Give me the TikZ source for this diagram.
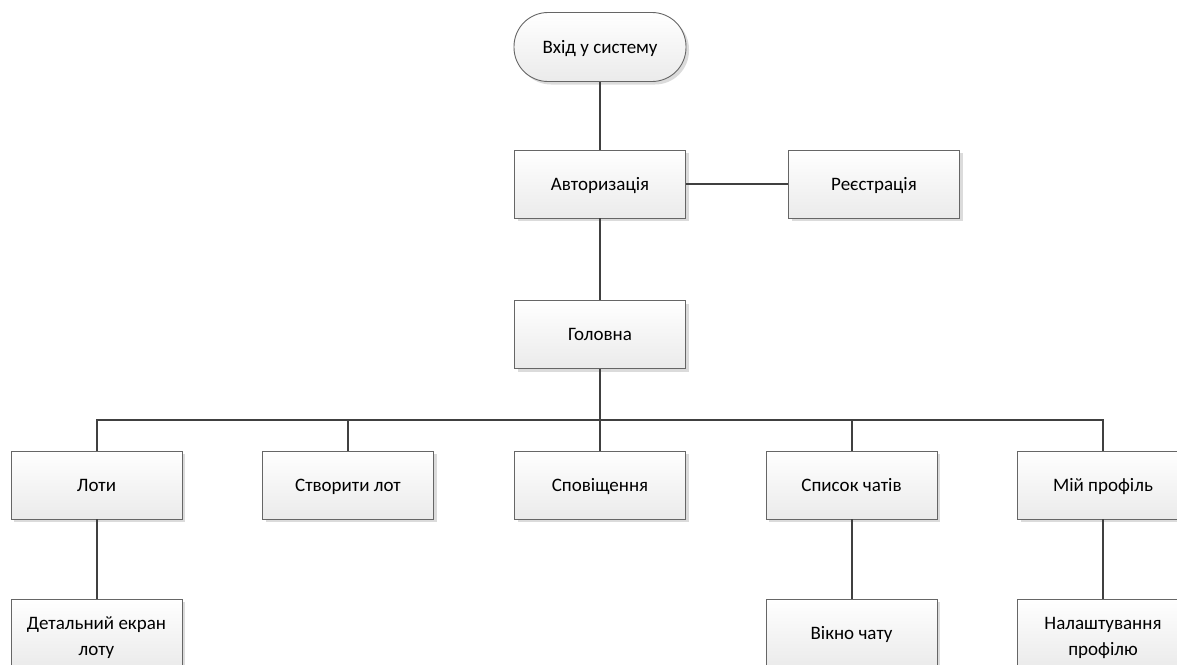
\documentclass[tikz,border=0pt]{standalone}
\usepackage{fontspec}
\setmainfont{Carlito}
\usetikzlibrary{shadows}
\tikzset{
  block/.style={rectangle, draw=black!60, line width=0.9pt,
    top color=white, bottom color=black!8,
    drop shadow={shadow xshift=3pt, shadow yshift=-3pt, fill=black!14, opacity=1},
    minimum width=171pt, minimum height=68pt, inner sep=2pt,
    align=center, font=\fontsize{19}{26}\selectfont, text=black,
    text height=12.2pt, text depth=0pt},
  twoline/.style={block, text height=44pt},
  terminal/.style={block, rounded corners=34pt, minimum height=69pt, minimum width=172pt},
  link/.style={draw=black!75, line width=2pt}
}
\begin{document}
\begin{tikzpicture}[x=1pt, y=-1pt]
  \useasboundingbox (0,0) rectangle (1177,664);
  % top part
  \node[terminal] (start) at (600,47) {Вхід у систему};
  \node[block] (auth) at (600,184) {Авторизація};
  \node[block] (reg) at (874,184) {Реєстрація};
  \node[block] (main) at (600,334.5) {Головна};
  % second level
  \node[block] (lots) at (96.5,485) {Лоти};
  \node[block] (create) at (348,485) {Створити лот};
  \node[block] (notif) at (600,485) {Сповіщення};
  \node[block] (chats) at (851.5,485) {Список чатів};
  \node[block] (profile) at (1103,485) {Мій профіль};
  % third level
  \node[twoline] (detail) at (96.5,633) {Детальний екран\\лоту};
  \node[block] (chat) at (851.5,633) {Вікно чату};
  \node[twoline] (settings) at (1103,633) {Налаштування\\профілю};
  % connectors
  \coordinate (bus) at (600,420);
  \draw[link] (start.south) -- (auth.north);
  \draw[link] (auth.east) -- (reg.west);
  \draw[link] (auth.south) -- (main.north);
  \draw[link] (main.south) -- (bus);
  \foreach \n in {lots,create,notif,chats,profile}
    \draw[link] (bus) -| (\n.north);
  \draw[link] (lots.south) -- (detail.north);
  \draw[link] (chats.south) -- (chat.north);
  \draw[link] (profile.south) -- (settings.north);
\end{tikzpicture}
\end{document}
